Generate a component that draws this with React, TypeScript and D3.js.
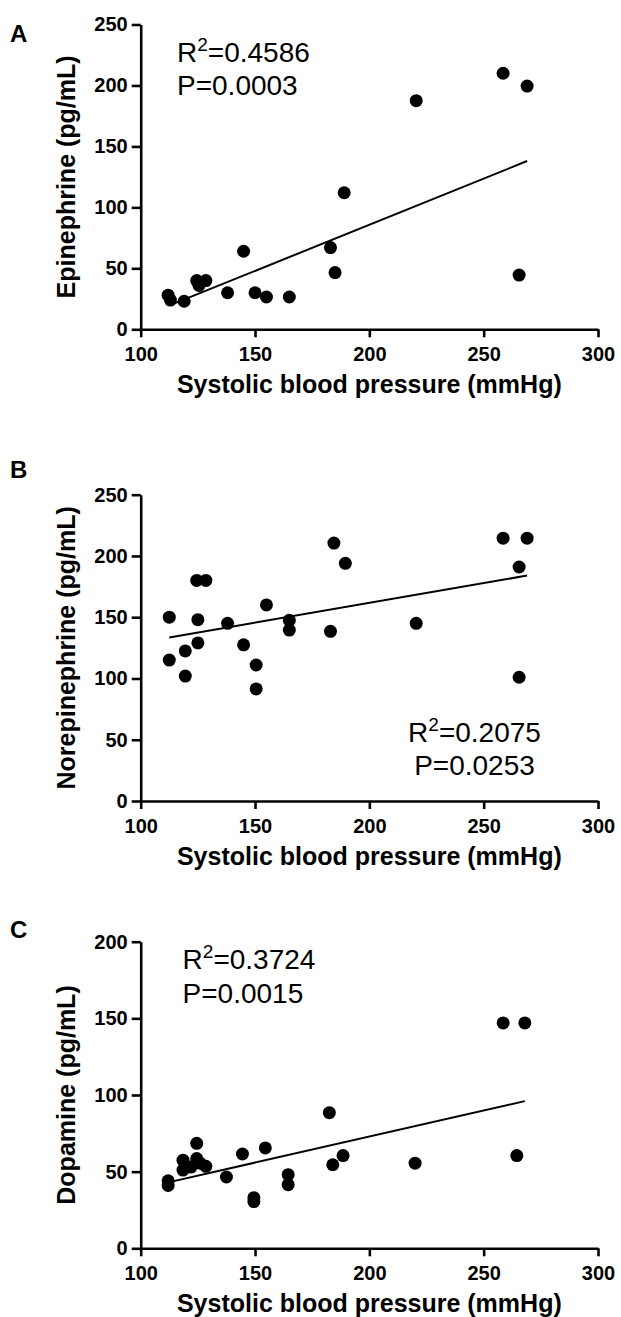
import React, { useEffect, useRef } from "react"
import * as d3 from "d3"

// Shared x axis
const xTicks = [100, 150, 200, 250, 300]
const xTitle = "Systolic blood pressure (mmHg)"

// Panel A: epinephrine
const sbpA = [112, 113, 119, 124.5, 125.5, 128.5, 138, 145, 150, 155, 165, 183, 185, 189, 220.5, 258.5, 269, 265.5]
const epinephrine = [28, 24, 23, 40, 36, 40, 30, 64, 30, 26.5, 26.5, 67, 46.5, 112, 187.5, 210, 199.5, 44.5]
const fitA = [[114.5, 21], [269, 138]]

// Panel B: norepinephrine
const sbpB = [112.5, 112.5, 119.5, 119.5, 124.5, 128.5, 125, 125, 138, 145, 150.5, 150.5, 155, 165, 165, 183, 184.5, 189.5, 220.5, 258.5, 269, 265.5, 265.5]
const norepinephrine = [150, 115, 122.5, 102, 180, 180, 148, 129, 145, 127.5, 111, 91.5, 160, 147.5, 139.5, 138.5, 210.5, 194, 145, 214.5, 214.5, 191, 101]
const fitB = [[112.5, 133.5], [269, 184]]

// Panel C: dopamine
const sbpC = [112, 112, 118.5, 118.5, 124.5, 124.5, 126, 128.5, 122, 137.5, 144.5, 149.5, 149.5, 154.5, 164.5, 164.5, 182.5, 184, 188.5, 220, 258.5, 268, 264.5]
const dopamine = [44, 41, 57.5, 51, 68.5, 58.5, 55.5, 53.5, 53, 46.5, 61.5, 33, 30.5, 65.5, 48, 41.5, 88.5, 54.5, 60.5, 55.5, 147, 147, 60.5]
const fitC = [[113.5, 43.5], [268, 96]]

const yTicks250 = [0, 50, 100, 150, 200, 250]
const yTicks200 = [0, 50, 100, 150, 200]

const panels = [
    { letter: "A", yLabel: "Epinephrine (pg/mL)", xs: sbpA, ys: epinephrine, fit: fitA, yTicks: yTicks250,
      r2: "0.4586", p: "0.0003", top: 24.5, bottom: 329.3, letterY: 42,
      stat: { x: 177, y: 62, anchor: "start" } },
    { letter: "B", yLabel: "Norepinephrine (pg/mL)", xs: sbpB, ys: norepinephrine, fit: fitB, yTicks: yTicks250,
      r2: "0.2075", p: "0.0253", top: 494.7, bottom: 801, letterY: 478,
      stat: { x: 474.5, y: 741.7, anchor: "middle" } },
    { letter: "C", yLabel: "Dopamine (pg/mL)", xs: sbpC, ys: dopamine, fit: fitC, yTicks: yTicks200,
      r2: "0.3724", p: "0.0015", top: 941.7, bottom: 1248.3, letterY: 938,
      stat: { x: 182.6, y: 969.3, anchor: "start" } },
]

const FONT = "Arial, 'Liberation Sans', sans-serif"

const App = () => {
    const refSvg = useRef<SVGSVGElement>(null)

    useEffect(() => {
        const svg = d3.select(refSvg.current)
        svg.selectAll("*").remove()

        const x = d3.scaleLinear().domain([100, 300]).range([140.7, 598])

        panels.forEach((pn) => {
            const yMax = pn.yTicks[pn.yTicks.length - 1]
            const y = d3.scaleLinear().domain([0, yMax]).range([pn.bottom, pn.top])
            const g = svg.append("g")

            // Axes
            const gx = g.append("g")
                .attr("transform", `translate(0,${pn.bottom})`)
                .call(d3.axisBottom(x).tickValues(xTicks).tickSize(8).tickSizeOuter(0).tickPadding(9.5))
            const gy = g.append("g")
                .attr("transform", `translate(${x.range()[0]},0)`)
                .call(d3.axisLeft(y).tickValues(pn.yTicks).tickSize(9).tickSizeOuter(0).tickPadding(4))
            ;[gx, gy].forEach((ax) => {
                ax.select(".domain").attr("stroke", "#000").attr("stroke-width", 2.6)
                ax.selectAll(".tick line").attr("stroke", "#000").attr("stroke-width", 2.6)
                ax.selectAll(".tick text")
                    .attr("fill", "#000")
                    .style("font-family", FONT)
                    .style("font-size", "20px")
                    .style("font-weight", "bold")
            })

            // Fit line
            g.append("path")
                .datum(pn.fit)
                .attr("d", d3.line<number[]>().x(d => x(d[0])).y(d => y(d[1])))
                .attr("stroke", "#000")
                .attr("stroke-width", 2)
                .attr("fill", "none")

            // Points
            g.selectAll(".dot")
                .data(pn.xs.map((v, i) => [v, pn.ys[i]]))
                .join("circle")
                .attr("class", "dot")
                .attr("cx", d => x(d[0]))
                .attr("cy", d => y(d[1]))
                .attr("r", 6.5)
                .attr("fill", "#000")

            // Panel letter
            g.append("text")
                .attr("x", 10).attr("y", pn.letterY)
                .style("font-family", FONT).style("font-size", "24px").style("font-weight", "bold")
                .text(pn.letter)

            // Axis titles
            g.append("text")
                .attr("x", (x.range()[0] + x.range()[1]) / 2)
                .attr("y", pn.bottom + 64)
                .attr("text-anchor", "middle")
                .style("font-family", FONT).style("font-size", "25px").style("font-weight", "bold")
                .text(xTitle)
            g.append("text")
                .attr("transform", `translate(75,${(pn.top + pn.bottom) / 2}) rotate(-90)`)
                .attr("text-anchor", "middle")
                .style("font-family", FONT).style("font-size", "25px").style("font-weight", "bold")
                .text(pn.yLabel)

            // Stats
            const t1 = g.append("text")
                .attr("x", pn.stat.x).attr("y", pn.stat.y)
                .attr("text-anchor", pn.stat.anchor)
                .style("font-family", FONT).style("font-size", "28px")
            t1.append("tspan").text("R")
            t1.append("tspan").attr("dy", -11).style("font-size", "19px").text("2")
            t1.append("tspan").attr("dy", 11).text("=" + pn.r2)
            g.append("text")
                .attr("x", pn.stat.x).attr("y", pn.stat.y + 33.3)
                .attr("text-anchor", pn.stat.anchor)
                .style("font-family", FONT).style("font-size", "28px")
                .text("P=" + pn.p)
        })
    }, [])

    return (
        <svg ref={refSvg} width={621} height={1317}
            style={{ position: "absolute", left: 0, top: 0, background: "#fff" }} />
    )
}

export default App
